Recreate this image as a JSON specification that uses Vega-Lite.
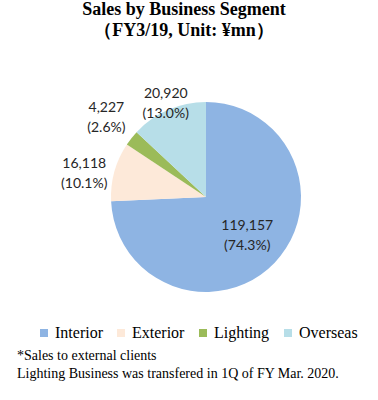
{
  "$schema": "https://vega.github.io/schema/vega-lite/v6.json",
  "padding": {"left": 17, "right": 2, "top": 0, "bottom": 0},
  "autosize": {"type": "pad"},
  "background": "white",
  "title": {
    "text": ["*Sales to external clients", "Lighting  Business was transfered in 1Q of FY Mar. 2020."],
    "orient": "bottom",
    "anchor": "start",
    "frame": "group",
    "dx": -19,
    "offset": 8,
    "font": "Liberation Serif",
    "fontSize": 14,
    "fontWeight": "normal",
    "lineHeight": 18,
    "color": "#000000"
  },
  "config": {"view": {"stroke": null}},
  "data": {
    "values": [
      {"segment": "Interior", "idx": 1, "value": 119157, "pct": 74.3},
      {"segment": "Exterior", "idx": 2, "value": 16118, "pct": 10.1},
      {"segment": "Lighting", "idx": 3, "value": 4227, "pct": 2.6},
      {"segment": "Overseas", "idx": 4, "value": 20920, "pct": 13.0}
    ]
  },
  "vconcat": [
    {
      "width": 340,
      "height": 240,
      "title": {
        "text": ["Sales by Business Segment", "（FY3/19, Unit: ¥mn）"],
        "font": "Liberation Serif",
        "fontSize": 18,
        "fontWeight": "bold",
        "lineHeight": 21,
        "color": "#000000",
        "anchor": "middle",
        "frame": "group",
        "dx": -22,
        "offset": 24
      },
      "transform": [
        {"calculate": "format(datum.value, ',') + '\\n(' + format(datum.pct, '.1f') + '%)'", "as": "label"}
      ],
      "encoding": {
        "theta": {"field": "value", "type": "quantitative", "stack": true},
        "order": {"field": "idx", "type": "quantitative"}
      },
      "layer": [
        {
          "mark": {"type": "arc", "outerRadius": 95},
          "encoding": {
            "color": {
              "field": "segment",
              "type": "nominal",
              "scale": {
                "domain": ["Interior", "Exterior", "Lighting", "Overseas"],
                "range": ["#8EB4E3", "#FDE9D9", "#9BBB59", "#B7DEE8"]
              },
              "legend": {
                "title": null,
                "orient": "bottom",
                "offset": 8,
                "direction": "horizontal",
                "symbolType": "square",
                "symbolSize": 64,
                "symbolStrokeWidth": 0,
                "labelFont": "Liberation Serif",
                "labelFontSize": 16,
                "labelColor": "#000000",
                "labelOffset": 3,
                "columnPadding": 10
              }
            }
          }
        },
        {
          "mark": {"type": "text", "radius": 57, "dy": -10, "font": "Lato", "fontSize": 14, "lineHeight": 20, "lineBreak": "\n", "color": "#262626"},
          "encoding": {"text": {"condition": {"test": "datum.segment === 'Interior'", "field": "label"}, "value": ""}}
        },
        {
          "mark": {"type": "text", "radius": 124, "thetaOffset": -0.08, "dy": -10, "font": "Lato", "fontSize": 14, "lineHeight": 20, "lineBreak": "\n", "color": "#262626"},
          "encoding": {"text": {"condition": {"test": "datum.segment === 'Exterior'", "field": "label"}, "value": ""}}
        },
        {
          "mark": {"type": "text", "radius": 127, "dy": -10, "font": "Lato", "fontSize": 14, "lineHeight": 20, "lineBreak": "\n", "color": "#262626"},
          "encoding": {"text": {"condition": {"test": "datum.segment === 'Lighting'", "field": "label"}, "value": ""}}
        },
        {
          "mark": {"type": "text", "radius": 101, "dy": -10, "font": "Lato", "fontSize": 14, "lineHeight": 20, "lineBreak": "\n", "color": "#262626"},
          "encoding": {"text": {"condition": {"test": "datum.segment === 'Overseas'", "field": "label"}, "value": ""}}
        }
      ]
    }
  ]
}
